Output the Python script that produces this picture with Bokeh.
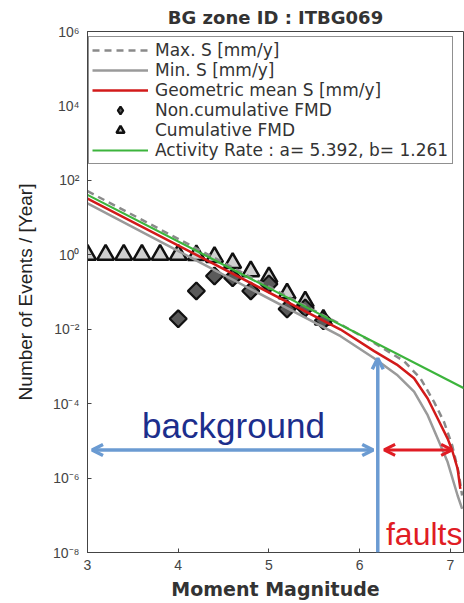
import math
from bokeh.plotting import figure
from bokeh.models import (Legend, LegendItem, FixedTicker, CustomJSTickFormatter,
                          Arrow, OpenHead, Label, Range1d)
from bokeh.embed import file_html
from bokeh.resources import INLINE

# ---------------- data ----------------
title_text = "BG zone ID : ITBG069"
x_label = "Moment Magnitude"
y_label = "Number of Events / [Year]"

x_ticks = [3, 4, 5, 6, 7]
y_ticks = [1e-8, 1e-6, 1e-4, 1e-2, 1e0, 1e2, 1e4, 1e6]

# cumulative FMD (triangles)
cum_mag = [3.0, 3.2, 3.4, 3.6, 3.8, 4.0, 4.2, 4.4, 4.6, 4.8, 5.0, 5.2, 5.4, 5.6]
cum_rate = [1.0, 1.0, 1.0, 1.0, 1.0, 1.0, 0.98, 0.87, 0.60, 0.36, 0.25, 0.092, 0.056, 0.018]

# non-cumulative FMD (diamonds)
noncum_mag = [4.0, 4.2, 4.4, 4.6, 4.8, 5.0, 5.2, 5.4, 5.6]
noncum_rate = [0.019, 0.107, 0.27, 0.24, 0.107, 0.165, 0.035, 0.037, 0.017]

# Max. S [mm/y] (dashed grey)
max_mag = [3.0, 5.79, 6.16, 6.49, 6.67, 6.82, 6.93, 7.02, 7.09, 7.13]
max_rate = [51.3, 0.0135, 4.27e-3, 1.38e-3, 4.8e-4, 1.12e-4, 3.24e-5, 7.6e-6, 1.45e-6, 3.4e-7]

# Min. S [mm/y] (solid grey)
min_mag = [3.0, 5.79, 6.16, 6.41, 6.60, 6.75, 6.86, 6.97, 7.08, 7.13]
min_rate = [24.0, 6.5e-3, 1.66e-3, 6.0e-4, 2.09e-4, 4.9e-5, 1.15e-5, 2.7e-6, 3.4e-7, 1.48e-7]

# Geometric mean S [mm/y] (red)
geo_mag = [3.0, 5.79, 6.16, 6.41, 6.60, 6.75, 6.86, 6.97, 7.02, 7.08, 7.11]
geo_rate = [32.4, 9.8e-3, 2.57e-3, 1.12e-3, 4.8e-4, 1.38e-4, 3.98e-5, 1.15e-5, 5.6e-6, 1.78e-6, 5.1e-7]

# Activity rate (green)
act_mag = [3.0, 7.15]
act_rate = [40.7, 2.6e-4]

legend_labels = ["Max. S [mm/y]", "Min. S [mm/y]", "Geometric mean S [mm/y]",
                 "Non.cumulative FMD", "Cumulative FMD",
                 "Activity Rate : a= 5.392, b= 1.261"]

annot_background = "background"
annot_faults = "faults"

# annotation placement
boundary_mag = 6.2
boundary_top = 1.65e-3
span_level = 5.7e-6
bg_arrow = (3.05, 6.15)
flt_arrow = (6.27, 7.02)
bg_text_pos = (4.61, 2.6e-5)
flt_text_pos = (6.29, 3.2e-8)

# ---------------- figure ----------------
p = figure(width=464, height=603, x_range=Range1d(3, 7.145), y_range=Range1d(1e-8, 1e6),
           y_axis_type="log", output_backend="svg", toolbar_location=None,
           min_border_left=87, min_border_right=1, min_border_top=31, min_border_bottom=51,
           background_fill_color="white", border_fill_color="white")

p.title.text = title_text
p.title.align = "center"
p.title.text_font = "DejaVu Sans"
p.title.text_font_style = "bold"
p.title.text_font_size = "18px"
p.title.text_color = "#333333"
p.title.standoff = 8

p.grid.visible = False
p.outline_line_color = "#444444"
p.outline_line_width = 1

fmt = CustomJSTickFormatter(code="""
const sup = {"-": "\u207b", "0": "\u2070", "1": "\u00b9", "2": "\u00b2", "3": "\u00b3",
             "4": "\u2074", "5": "\u2075", "6": "\u2076", "7": "\u2077", "8": "\u2078", "9": "\u2079"};
const e = Math.round(Math.log10(tick));
return "10" + String(e).split("").map(c => sup[c]).join("");
""")

xa = p.xaxis[0]
xa.ticker = FixedTicker(ticks=x_ticks)
xa.axis_label = x_label
xa.axis_label_text_font = "DejaVu Sans"
xa.axis_label_text_font_style = "bold"
xa.axis_label_text_font_size = "19px"
xa.axis_label_text_color = "#333333"
xa.axis_label_standoff = 5
xa.major_label_text_font = "Liberation Sans"
xa.major_label_text_font_size = "14px"
xa.major_label_text_color = "#444444"
xa.major_label_standoff = 7

ya = p.yaxis[0]
ya.ticker = FixedTicker(ticks=y_ticks)
ya.formatter = fmt
ya.axis_label = y_label
ya.axis_label_text_font = "Liberation Sans"
ya.axis_label_text_font_style = "normal"
ya.axis_label_text_font_size = "19px"
ya.axis_label_text_color = "#222222"
ya.axis_label_standoff = 14
ya.major_label_text_font = "Liberation Sans"
ya.major_label_text_font_size = "14px"
ya.major_label_text_color = "#444444"
ya.major_label_standoff = 8

for ax in (xa, ya):
    ax.major_tick_in = 4
    ax.major_tick_out = 0
    ax.minor_tick_line_color = None
    ax.axis_line_color = "#444444"
    ax.major_tick_line_color = "#444444"

# ---------------- glyphs ----------------
r_tri = p.scatter(cum_mag, cum_rate, marker="triangle", size=17, fill_color="#cfcfcf",
                  line_color="#111111", line_width=2.5)
# diamond-marker layer (used as the legend swatch), covered by the rotated squares
r_dia_key = p.scatter(noncum_mag, noncum_rate, marker="diamond", size=16,
                      fill_color="#5a5a5a", line_color="#111111", line_width=2.2)
r_dia = p.scatter(noncum_mag, noncum_rate, marker="square", angle=math.pi / 4, size=12,
                  fill_color="#5a5a5a", line_color="#111111", line_width=2.2)

r_min = p.line(min_mag, min_rate, line_color="#9a9a9a", line_width=2.5)
r_max = p.line(max_mag, max_rate, line_color="#8a8a8a", line_width=2.5, line_dash="7 5")
r_geo = p.line(geo_mag, geo_rate, line_color="#d21a1a", line_width=2.5)
r_act = p.line(act_mag, act_rate, line_color="#3cb43c", line_width=2.2)

# ---------------- annotations ----------------
blue = "#6b9bd2"
red = "#e01c24"
p.add_layout(Arrow(x_start=boundary_mag, y_start=1e-8, x_end=boundary_mag, y_end=boundary_top,
                   line_color=blue, line_width=3.5,
                   end=OpenHead(line_color=blue, line_width=3.5, size=11)))
p.add_layout(Arrow(x_start=bg_arrow[0], y_start=span_level, x_end=bg_arrow[1], y_end=span_level,
                   line_color=blue, line_width=3.5,
                   start=OpenHead(line_color=blue, line_width=3.5, size=11),
                   end=OpenHead(line_color=blue, line_width=3.5, size=11)))
p.add_layout(Arrow(x_start=flt_arrow[0], y_start=span_level, x_end=flt_arrow[1], y_end=span_level,
                   line_color=red, line_width=3,
                   start=OpenHead(line_color=red, line_width=3, size=11),
                   end=OpenHead(line_color=red, line_width=3, size=11)))

p.add_layout(Label(x=bg_text_pos[0], y=bg_text_pos[1], text=annot_background,
                   text_font="Liberation Sans",
                   text_font_size="35px", text_color="#1c2e8c",
                   text_align="center", text_baseline="alphabetic"))
p.add_layout(Label(x=flt_text_pos[0], y=flt_text_pos[1], text=annot_faults,
                   text_font="Liberation Sans",
                   text_font_size="32px", text_color=red,
                   text_align="left", text_baseline="alphabetic"))

# ---------------- legend ----------------
legend = Legend(items=[
    LegendItem(label=legend_labels[0], renderers=[r_max]),
    LegendItem(label=legend_labels[1], renderers=[r_min]),
    LegendItem(label=legend_labels[2], renderers=[r_geo]),
    LegendItem(label=legend_labels[3], renderers=[r_dia_key]),
    LegendItem(label=legend_labels[4], renderers=[r_tri]),
    LegendItem(label=legend_labels[5], renderers=[r_act]),
], location=(1, 388))
legend.label_text_font = "DejaVu Sans"
legend.label_text_font_size = "17px"
legend.label_text_color = "#333333"
legend.glyph_width = 56
legend.glyph_height = 20
legend.label_height = 20
legend.label_width = 294
legend.label_standoff = 7
legend.spacing = 0
legend.padding = 3
legend.margin = 0
legend.border_line_color = "#222222"
legend.border_line_width = 1
legend.background_fill_color = "white"
legend.background_fill_alpha = 1.0
p.add_layout(legend, "center")

open("out.html", "w").write(file_html(p, INLINE))
